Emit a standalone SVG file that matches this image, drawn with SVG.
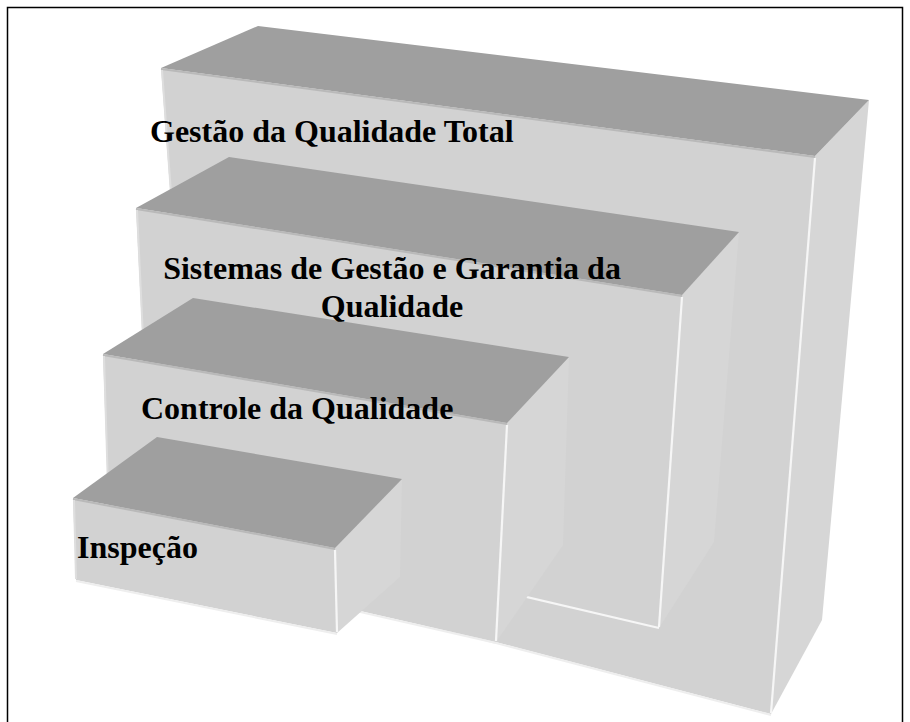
<svg xmlns="http://www.w3.org/2000/svg" width="910" height="722" viewBox="0 0 910 722">
<style>
.top{fill:#9f9f9f}
.front{fill:#d2d2d2}
.side{fill:#d6d6d6}
.ridge{stroke:#b9b9b9;stroke-width:2;fill:none}
.lft{stroke:#dedede;stroke-width:2;fill:none}
.hl{stroke:#f6f6f6;stroke-width:2.2;fill:none}
.bot{stroke:#eeeeee;stroke-width:2;fill:none}
.lbl{font-family:"Liberation Serif","Times New Roman",serif;font-weight:bold;font-size:32px;fill:#000}
</style>
<rect x="0" y="0" width="910" height="722" fill="#ffffff"/>
<rect x="7.5" y="7.5" width="895" height="740" fill="none" stroke="#000" stroke-width="1.5"/>

<g id="box-gestao-total">
  <polygon class="front" points="161,68 815,156 771,714 198,564"/>
  <polygon class="side" points="815,156 869,100 822,620 771,714"/>
  <polygon class="top" points="258,26 161,68 815,156 869,100"/>
  <line class="ridge" x1="161" y1="69" x2="815" y2="157"/>
  <line class="lft" x1="162" y1="70" x2="198" y2="562"/>
  <line class="hl" x1="815" y1="158" x2="771" y2="713"/>
  <line class="bot" x1="198" y1="565" x2="771" y2="715"/>
</g>

<g id="box-sistemas">
  <polygon class="front" points="136,208 682,295 659,628 151,509"/>
  <polygon class="side" points="682,295 739,232 714,542 659,628"/>
  <polygon class="top" points="229,157 136,208 682,295 739,232"/>
  <line class="ridge" x1="136" y1="209" x2="682" y2="296"/>
  <line class="lft" x1="137" y1="210" x2="151" y2="507"/>
  <line class="hl" x1="682" y1="297" x2="659" y2="627"/>
  <line class="hl" x1="151" y1="509" x2="659" y2="628" stroke-width="2.6"/>
</g>

<g id="box-controle">
  <polygon class="front" points="103,354 507,423 496,642 110,554"/>
  <polygon class="side" points="507,423 569,357 563,545 496,642"/>
  <polygon class="top" points="193,298 103,354 507,423 569,357"/>
  <line class="ridge" x1="103" y1="355" x2="507" y2="424"/>
  <line class="lft" x1="104" y1="356" x2="110" y2="552"/>
  <line class="hl" x1="507" y1="425" x2="496" y2="641"/>
  <line class="bot" x1="110" y1="555" x2="496" y2="643"/>
</g>

<g id="box-inspecao">
  <polygon class="front" points="73,498 335,548 337,633 76,580"/>
  <polygon class="side" points="335,548 402,479 400,577 337,633"/>
  <polygon class="top" points="157,437 73,498 335,548 402,479"/>
  <line class="ridge" x1="73" y1="499" x2="335" y2="549"/>
  <line class="lft" x1="74" y1="500" x2="76" y2="579"/>
  <line class="hl" x1="335" y1="550" x2="337" y2="632"/>
  <line class="bot" x1="76" y1="581" x2="337" y2="634"/>
</g>

<g id="labels">
  <text class="lbl" x="150" y="142">Gestão da Qualidade Total</text>
  <text class="lbl" x="392" y="279" text-anchor="middle">Sistemas de Gestão e Garantia da</text>
  <text class="lbl" x="392" y="317" text-anchor="middle">Qualidade</text>
  <text class="lbl" x="141" y="419">Controle da Qualidade</text>
  <text class="lbl" x="77" y="558">Inspeção</text>
</g>
</svg>
